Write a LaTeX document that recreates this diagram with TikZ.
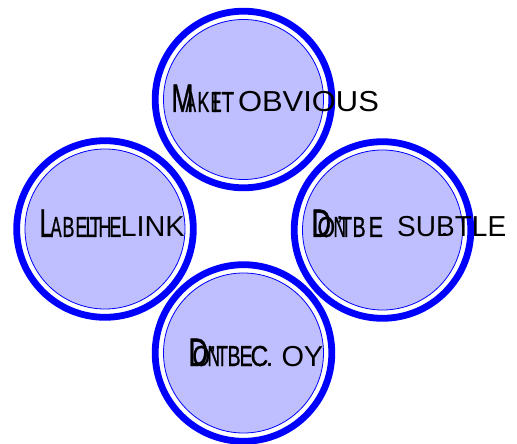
\documentclass[tikz,border=0pt]{standalone}
\usepackage{fontspec}
\setmainfont{Liberation Sans}
\newfontfamily\cf[FakeBold=1]{Liberation Sans}
\usepackage{graphicx}
\definecolor{ringblue}{RGB}{0,0,255}
\definecolor{discfill}{RGB}{191,191,255}
\newcommand\bigsz{\fontsize{40}{40}\selectfont}
\newcommand\smsz{\fontsize{29}{29}\selectfont}
% place a glyph (group) at an absolute x offset, condensed horizontally
\newcommand\Lt[3]{\makebox[0pt][l]{\hspace*{#1bp}\scalebox{#2}[1]{#3}}}
\newcommand\Ct[3]{\makebox[0pt][l]{\hspace*{#1bp}\scalebox{#2}[1]{\cf #3}}}
\tikzset{
  ring/.style={circle, draw=ringblue, line width=6.8bp, minimum size=176.6bp, inner sep=0pt},
  disc/.style={circle, draw=ringblue, line width=0.8bp, fill=discfill, minimum size=160bp, inner sep=0pt},
  lbl/.style={anchor=base west, inner sep=0pt, outer sep=0pt, font=\smsz, text=black}
}
\begin{document}
\begin{tikzpicture}[x=1bp,y=-1bp]
\useasboundingbox (0,0) rectangle (517,444);
% circles
\node[ring] (rT) at (243.5,99.5) {};
\node[disc] (dT) at (rT.center) {};
\node[ring] (rL) at (105,229) {};
\node[disc] (dL) at (rL.center) {};
\node[ring] (rR) at (382.5,230) {};
\node[disc] (dR) at (rR.center) {};
\node[ring] (rB) at (243.5,353) {};
\node[disc] (dB) at (rB.center) {};
% labels
\node[lbl] (tT) at (0,112) {\Ct{171}{0.66}{\bigsz M}\Ct{185}{0.55}{A}\Ct{197}{0.62}{K}\Ct{210}{0.58}{E}\Ct{212}{0.7}{I}\Ct{221}{0.72}{T}\Lt{237.5}{1.07}{OBVIOUS}\Lt{303}{1}{.}};
\node[lbl] (tL) at (0,237) {\Ct{39}{0.63}{\bigsz L}\Ct{50}{0.58}{A}\Ct{62}{0.62}{B}\Ct{75}{0.62}{E}\Ct{85}{0.67}{L}\Ct{89}{0.67}{T}\Ct{98}{0.62}{H}\Ct{109}{0.62}{E}\Lt{120}{1}{LINK}};
\node[lbl] (tR) at (0,237) {\Ct{311}{0.68}{\bigsz D}\Ct{317}{0.78}{O}\Lt{336}{1}{’}\Ct{333}{0.6}{N}\Ct{340}{0.65}{T}\Ct{352}{0.68}{B}\Ct{368}{0.75}{E}\Lt{396.7}{0.97}{SUBTLE}\Lt{440}{1}{.}};
\node[lbl] (tB) at (0,366) {\Ct{188}{0.68}{\bigsz D}\Ct{192}{0.78}{O}\Lt{209}{1}{’}\Ct{207}{0.6}{N}\Ct{216}{0.65}{T}\Ct{227}{0.68}{B}\Ct{239}{0.68}{E}\Ct{250}{0.85}{C}\Lt{265}{1}{.}\Lt{281}{1}{OY}};
\end{tikzpicture}
\end{document}
